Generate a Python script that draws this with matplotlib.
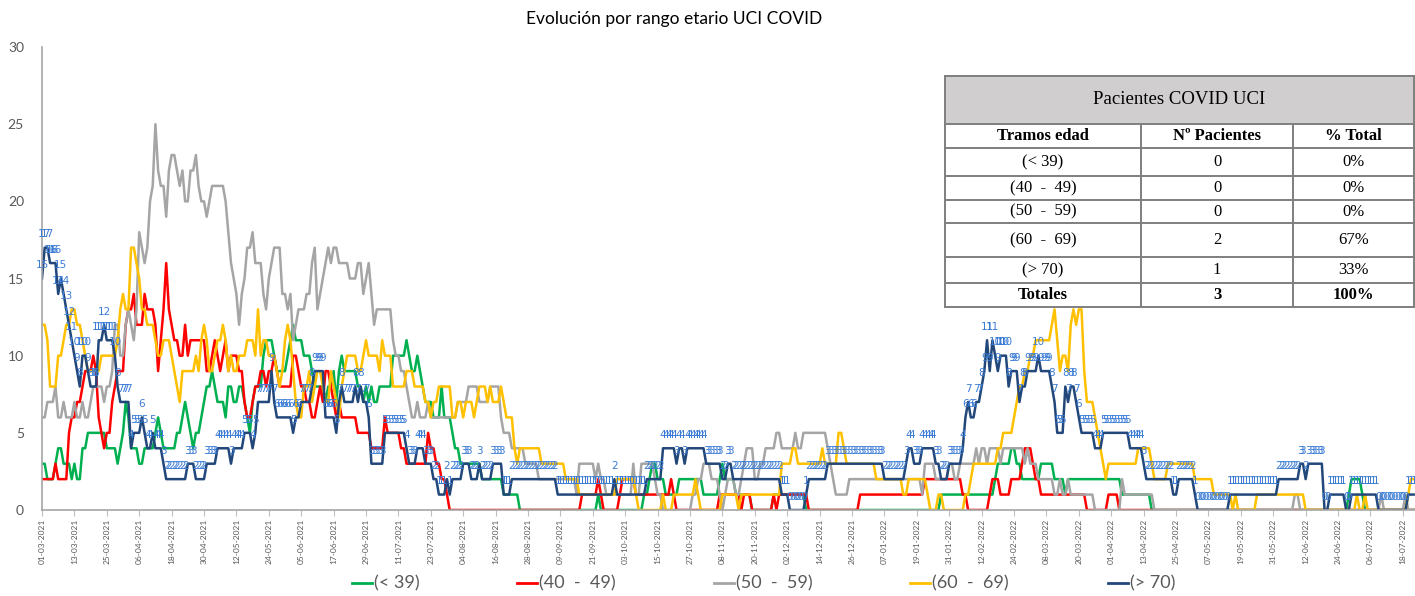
import numpy as np
import pandas as pd
import matplotlib
matplotlib.use("Agg")
import matplotlib.pyplot as plt
from matplotlib.lines import Line2D
from matplotlib.patches import Rectangle

plt.rcParams['font.family'] = ['Lato', 'DejaVu Sans']

#first day of the daily series
first_day = "2021-03-01"

#daily ICU patients per age range
menor_39 = [
    3, 3, 2, 2, 2, 3, 4, 4, 3, 3,
    3, 2, 3, 2, 2, 4, 4, 5, 5, 5,
    5, 5, 5, 5, 4, 4, 4, 4, 3, 4,
    5, 7, 6, 4, 4, 4, 3, 3, 4, 4,
    4, 4, 5, 6, 5, 4, 4, 4, 4, 4,
    5, 5, 6, 7, 6, 5, 4, 5, 5, 6,
    7, 8, 8, 9, 8, 7, 7, 7, 6, 8,
    8, 7, 7, 8, 8, 7, 6, 5, 7, 8,
    8, 8, 10, 11, 11, 11, 10, 9, 9, 9,
    9, 10, 11, 12, 11, 11, 11, 10, 10, 10,
    9, 8, 8, 8, 8, 7, 8, 8, 9, 7,
    9, 10, 9, 9, 9, 9, 9, 8, 8, 7,
    8, 7, 8, 7, 7, 8, 8, 8, 8, 8,
    10, 10, 10, 10, 10, 11, 10, 9, 9, 10,
    9, 8, 7, 7, 7, 6, 6, 6, 8, 6,
    6, 6, 5, 4, 4, 3, 3, 3, 3, 3,
    3, 3, 3, 2, 2, 2, 2, 2, 2, 2,
    2, 1, 1, 1, 1, 1, 1, 0, 0, 0,
    0, 0, 0, 0, 0, 0, 0, 0, 0, 0,
    0, 0, 0, 0, 0, 0, 0, 0, 0, 0,
    0, 0, 0, 0, 0, 0, 1, 0, 0, 0,
    0, 0, 0, 0, 0, 0, 0, 0, 0, 0,
    0, 0, 0, 1, 1, 2, 3, 3, 2, 2,
    2, 1, 1, 1, 1, 1, 2, 2, 2, 2,
    2, 2, 2, 2, 2, 1, 1, 1, 1, 1,
    1, 2, 3, 2, 2, 2, 2, 1, 1, 1,
    1, 1, 1, 0, 0, 0, 0, 0, 0, 0,
    0, 1, 1, 1, 1, 1, 1, 1, 1, 1,
    1, 1, 1, 0, 0, 0, 0, 0, 0, 0,
    0, 0, 0, 0, 0, 0, 0, 0, 0, 0,
    0, 0, 0, 0, 0, 0, 0, 0, 0, 0,
    0, 0, 0, 0, 0, 0, 0, 0, 0, 0,
    0, 0, 0, 0, 0, 0, 0, 0, 0, 0,
    0, 0, 0, 1, 1, 1, 1, 1, 1, 1,
    1, 1, 1, 1, 1, 1, 1, 1, 1, 1,
    1, 1, 1, 2, 3, 3, 3, 3, 3, 4,
    4, 3, 3, 2, 2, 2, 2, 2, 2, 2,
    3, 3, 3, 3, 3, 2, 2, 2, 2, 1,
    2, 2, 2, 2, 2, 2, 2, 2, 2, 2,
    2, 2, 2, 2, 2, 2, 2, 2, 2, 2,
    1, 1, 1, 1, 1, 1, 1, 1, 1, 1,
    1, 0, 0, 0, 0, 0, 0, 0, 0, 0,
    0, 0, 0, 0, 0, 0, 0, 0, 0, 0,
    0, 0, 0, 0, 0, 0, 0, 0, 0, 0,
    0, 0, 0, 0, 0, 0, 0, 0, 0, 0,
    0, 0, 0, 0, 0, 0, 0, 0, 0, 0,
    0, 0, 0, 0, 0, 0, 0, 0, 0, 0,
    0, 0, 0, 0, 0, 0, 0, 0, 0, 0,
    0, 0, 0, 0, 1, 2, 2, 2, 2, 1,
    0, 0, 0, 0, 0, 0, 0, 0, 0, 0,
    0, 0, 0, 0, 0, 0, 0, 0, 0,
]

de_40_49 = [
    2, 2, 2, 2, 2, 3, 2, 2, 2, 2,
    5, 6, 6, 7, 7, 8, 9, 9, 9, 10,
    9, 6, 5, 4, 5, 5, 7, 8, 9, 9,
    9, 12, 13, 13, 14, 12, 12, 12, 14, 13,
    13, 13, 12, 9, 11, 13, 16, 13, 12, 11,
    11, 10, 10, 12, 10, 11, 11, 11, 11, 11,
    11, 9, 9, 10, 11, 10, 9, 10, 11, 9,
    10, 10, 10, 9, 9, 7, 6, 6, 7, 8,
    8, 9, 9, 8, 9, 9, 10, 9, 8, 8,
    8, 8, 8, 10, 10, 9, 8, 8, 7, 7,
    6, 6, 7, 8, 7, 9, 9, 8, 7, 6,
    7, 6, 6, 6, 6, 6, 6, 5, 5, 5,
    5, 5, 4, 4, 4, 4, 4, 6, 5, 5,
    5, 5, 5, 4, 4, 3, 3, 3, 3, 3,
    3, 3, 3, 5, 4, 4, 3, 3, 2, 2,
    1, 0, 0, 0, 0, 0, 0, 0, 0, 0,
    0, 0, 0, 0, 0, 0, 0, 0, 0, 0,
    0, 0, 0, 0, 0, 0, 0, 0, 0, 0,
    0, 0, 0, 0, 0, 0, 0, 0, 0, 0,
    0, 0, 0, 0, 0, 0, 0, 0, 0, 0,
    1, 1, 1, 1, 1, 1, 2, 1, 0, 0,
    0, 0, 0, 0, 1, 2, 2, 2, 2, 2,
    1, 1, 1, 1, 1, 1, 1, 1, 1, 1,
    1, 1, 1, 2, 1, 0, 0, 0, 0, 0,
    0, 0, 0, 0, 0, 0, 0, 0, 0, 0,
    0, 1, 1, 1, 1, 1, 1, 1, 1, 0,
    1, 1, 1, 0, 0, 0, 0, 0, 0, 0,
    0, 1, 0, 1, 1, 1, 1, 1, 1, 1,
    1, 1, 1, 1, 0, 0, 0, 0, 0, 0,
    0, 0, 0, 0, 0, 0, 0, 0, 0, 0,
    0, 0, 0, 1, 1, 1, 1, 1, 1, 1,
    1, 1, 1, 1, 1, 1, 1, 1, 1, 1,
    1, 1, 1, 1, 1, 1, 1, 2, 2, 2,
    2, 2, 2, 2, 2, 2, 2, 2, 2, 2,
    2, 1, 1, 0, 0, 0, 0, 0, 0, 0,
    0, 1, 2, 2, 2, 1, 1, 1, 1, 2,
    2, 2, 2, 3, 4, 4, 4, 3, 2, 2,
    1, 1, 1, 1, 1, 1, 1, 1, 1, 1,
    1, 1, 1, 1, 1, 1, 1, 0, 0, 0,
    0, 0, 0, 0, 0, 1, 1, 1, 1, 0,
    0, 0, 0, 0, 0, 0, 0, 0, 0, 0,
    0, 0, 0, 0, 0, 0, 0, 0, 0, 0,
    0, 0, 0, 0, 0, 0, 0, 0, 0, 0,
    0, 0, 0, 0, 0, 0, 0, 0, 0, 0,
    0, 0, 0, 0, 0, 0, 0, 0, 0, 0,
    0, 0, 0, 0, 0, 0, 0, 0, 0, 0,
    0, 0, 0, 0, 0, 0, 0, 0, 0, 0,
    0, 0, 0, 0, 0, 0, 0, 0, 0, 0,
    0, 0, 0, 0, 0, 0, 0, 0, 0, 0,
    0, 0, 0, 0, 0, 0, 0, 0, 0, 0,
    0, 0, 0, 0, 0, 0, 0, 0, 0,
]

de_50_59 = [
    6, 6, 7, 7, 7, 8, 6, 6, 7, 6,
    6, 6, 7, 6, 6, 7, 6, 6, 7, 8,
    8, 8, 8, 7, 8, 8, 9, 12, 12, 10,
    10, 12, 13, 12, 11, 13, 18, 17, 16, 17,
    20, 21, 25, 22, 21, 21, 19, 22, 23, 23,
    22, 21, 22, 20, 20, 22, 22, 23, 21, 20,
    20, 19, 20, 21, 21, 21, 21, 21, 20, 18,
    16, 15, 14, 12, 14, 15, 17, 17, 18, 16,
    16, 16, 14, 13, 15, 16, 17, 17, 17, 14,
    14, 13, 14, 11, 12, 13, 13, 13, 14, 14,
    16, 17, 13, 14, 15, 16, 17, 16, 17, 17,
    16, 16, 16, 16, 15, 15, 15, 16, 16, 14,
    15, 16, 14, 12, 13, 13, 13, 13, 13, 13,
    11, 10, 10, 9, 9, 8, 7, 6, 6, 7,
    6, 6, 6, 7, 6, 6, 6, 6, 6, 6,
    6, 6, 6, 6, 7, 7, 7, 7, 8, 8,
    8, 8, 7, 7, 7, 7, 8, 8, 8, 8,
    6, 5, 5, 5, 4, 4, 4, 4, 4, 3,
    3, 3, 3, 3, 2, 2, 2, 2, 2, 2,
    2, 2, 2, 2, 2, 2, 2, 2, 1, 3,
    3, 3, 3, 3, 3, 2, 3, 2, 2, 1,
    1, 1, 1, 1, 1, 1, 1, 1, 1, 3,
    1, 1, 3, 3, 3, 3, 3, 2, 1, 1,
    0, 0, 0, 0, 0, 0, 0, 0, 0, 0,
    0, 1, 1, 2, 2, 3, 3, 3, 2, 2,
    2, 1, 0, 1, 2, 2, 2, 1, 1, 2,
    3, 4, 4, 4, 2, 2, 3, 3, 4, 4,
    4, 4, 5, 5, 4, 4, 4, 4, 4, 5,
    4, 4, 5, 5, 5, 5, 5, 5, 5, 5,
    5, 4, 3, 2, 1, 1, 1, 1, 1, 2,
    2, 2, 2, 2, 2, 2, 2, 2, 2, 2,
    2, 2, 2, 2, 2, 2, 2, 2, 2, 2,
    2, 2, 2, 2, 2, 2, 1, 3, 3, 3,
    3, 2, 2, 2, 2, 2, 3, 3, 2, 2,
    3, 3, 3, 3, 3, 3, 4, 3, 4, 4,
    3, 4, 4, 4, 4, 3, 4, 4, 4, 4,
    4, 4, 4, 4, 3, 4, 3, 3, 3, 2,
    2, 2, 2, 2, 2, 1, 1, 2, 1, 1,
    2, 1, 1, 1, 1, 1, 1, 1, 1, 1,
    0, 0, 0, 0, 0, 0, 0, 0, 0, 0,
    2, 1, 1, 1, 1, 1, 1, 1, 1, 1,
    1, 1, 0, 0, 0, 0, 0, 0, 0, 0,
    0, 0, 0, 0, 0, 0, 0, 0, 0, 0,
    0, 0, 0, 0, 0, 0, 0, 0, 0, 0,
    0, 0, 0, 0, 0, 0, 0, 0, 0, 0,
    0, 0, 0, 0, 0, 0, 0, 0, 0, 0,
    0, 0, 0, 0, 1, 1, 0, 0, 0, 0,
    0, 0, 0, 0, 0, 0, 0, 0, 0, 0,
    0, 0, 0, 0, 0, 0, 0, 0, 0, 0,
    0, 0, 0, 0, 0, 0, 1, 0, 0, 0,
    0, 0, 0, 0, 0, 1, 0, 0, 0,
]

de_60_69 = [
    12, 12, 11, 8, 8, 8, 10, 10, 11, 12,
    12, 13, 13, 12, 12, 11, 10, 9, 9, 9,
    9, 9, 10, 10, 10, 10, 10, 10, 11, 13,
    14, 13, 13, 17, 17, 16, 15, 13, 13, 12,
    12, 12, 11, 10, 10, 11, 11, 11, 10, 9,
    8, 7, 9, 9, 9, 9, 9, 10, 9, 11,
    12, 11, 9, 9, 10, 11, 11, 12, 11, 9,
    10, 9, 9, 10, 10, 10, 11, 11, 11, 10,
    13, 10, 11, 11, 10, 10, 10, 9, 8, 9,
    11, 12, 11, 9, 7, 6, 6, 8, 8, 9,
    7, 8, 9, 9, 8, 7, 7, 9, 8, 7,
    6, 8, 9, 10, 10, 10, 10, 9, 9, 10,
    11, 10, 10, 10, 10, 9, 11, 10, 10, 10,
    8, 8, 8, 8, 8, 9, 9, 9, 8, 8,
    8, 8, 7, 7, 6, 7, 7, 8, 8, 8,
    8, 8, 6, 6, 7, 7, 6, 7, 7, 7,
    6, 7, 8, 8, 8, 7, 8, 7, 7, 7,
    8, 7, 6, 6, 6, 4, 3, 4, 4, 4,
    4, 4, 4, 4, 4, 3, 3, 3, 3, 3,
    3, 3, 3, 3, 2, 2, 2, 2, 2, 1,
    1, 1, 1, 1, 1, 1, 1, 1, 1, 1,
    1, 1, 1, 2, 2, 2, 2, 2, 2, 2,
    1, 0, 0, 0, 0, 0, 0, 0, 0, 0,
    1, 0, 0, 0, 1, 1, 1, 1, 1, 1,
    1, 1, 2, 1, 0, 0, 0, 0, 0, 0,
    0, 0, 1, 1, 1, 1, 1, 1, 0, 1,
    1, 1, 1, 1, 1, 1, 1, 1, 1, 1,
    1, 1, 1, 1, 3, 3, 3, 3, 4, 4,
    3, 3, 3, 3, 3, 3, 3, 3, 3, 4,
    3, 3, 3, 3, 3, 5, 5, 4, 3, 3,
    3, 3, 3, 3, 3, 3, 3, 3, 3, 2,
    2, 2, 2, 2, 2, 2, 2, 2, 2, 1,
    1, 2, 2, 2, 2, 2, 2, 2, 1, 0,
    0, 0, 1, 1, 0, 0, 0, 0, 0, 0,
    0, 0, 1, 1, 2, 3, 3, 3, 3, 3,
    3, 3, 3, 3, 4, 4, 5, 5, 5, 5,
    6, 7, 8, 8, 9, 9, 10, 10, 11, 11,
    11, 11, 11, 11, 12, 13, 11, 9, 10, 10,
    9, 12, 13, 12, 13, 13, 9, 7, 7, 7,
    6, 5, 4, 3, 2, 3, 3, 3, 3, 3,
    3, 3, 3, 3, 3, 3, 4, 4, 4, 4,
    4, 3, 2, 2, 2, 2, 2, 3, 3, 3,
    3, 3, 3, 3, 3, 3, 3, 2, 2, 2,
    2, 2, 2, 2, 1, 1, 1, 1, 1, 1,
    1, 0, 1, 0, 0, 0, 0, 0, 0, 0,
    1, 1, 1, 1, 1, 1, 1, 1, 1, 1,
    1, 1, 1, 1, 1, 1, 1, 1, 0, 0,
    0, 0, 0, 0, 0, 0, 0, 0, 0, 0,
    0, 0, 0, 0, 0, 0, 0, 1, 0, 0,
    1, 0, 0, 0, 0, 0, 0, 0, 0, 0,
    0, 0, 0, 0, 0, 0, 1, 2, 2,
]

mayor_70 = [
    15, 17, 17, 16, 16, 16, 14, 15, 14, 13,
    12, 11, 10, 9, 8, 10, 10, 9, 8, 8,
    8, 11, 11, 12, 11, 11, 11, 10, 8, 7,
    7, 7, 7, 4, 5, 5, 5, 6, 5, 4,
    4, 5, 4, 4, 4, 3, 2, 2, 2, 2,
    2, 2, 2, 2, 3, 3, 3, 2, 2, 2,
    2, 3, 3, 3, 3, 4, 4, 4, 4, 4,
    3, 4, 4, 4, 4, 5, 5, 5, 4, 5,
    7, 7, 7, 7, 7, 9, 7, 6, 6, 6,
    6, 6, 6, 5, 6, 6, 7, 7, 7, 7,
    8, 9, 9, 9, 9, 6, 6, 6, 6, 5,
    7, 8, 7, 7, 7, 7, 8, 7, 8, 7,
    7, 6, 3, 3, 3, 3, 3, 5, 5, 5,
    5, 5, 5, 5, 5, 4, 3, 3, 3, 4,
    4, 4, 3, 3, 3, 2, 2, 1, 1, 1,
    2, 1, 2, 2, 2, 2, 3, 3, 3, 2,
    2, 2, 3, 2, 2, 2, 2, 3, 3, 3,
    3, 1, 1, 1, 2, 2, 2, 2, 2, 2,
    2, 2, 2, 2, 2, 2, 2, 2, 2, 2,
    2, 1, 1, 1, 1, 1, 1, 1, 1, 1,
    1, 1, 1, 1, 1, 1, 1, 1, 1, 1,
    1, 1, 2, 1, 1, 1, 1, 1, 1, 1,
    1, 1, 1, 1, 2, 2, 2, 2, 2, 2,
    4, 4, 4, 4, 4, 3, 4, 4, 3, 4,
    4, 4, 4, 4, 4, 4, 3, 3, 3, 3,
    3, 3, 2, 2, 3, 3, 2, 2, 2, 2,
    2, 2, 2, 2, 2, 2, 2, 2, 2, 2,
    2, 2, 2, 2, 1, 1, 1, 0, 0, 0,
    0, 0, 0, 1, 2, 2, 2, 2, 2, 2,
    2, 3, 3, 3, 3, 3, 3, 3, 3, 3,
    3, 3, 3, 3, 3, 3, 3, 3, 3, 3,
    3, 3, 2, 2, 2, 2, 2, 2, 2, 2,
    3, 4, 4, 3, 3, 3, 4, 4, 4, 4,
    4, 3, 3, 2, 2, 2, 3, 3, 3, 3,
    3, 4, 6, 7, 6, 6, 7, 7, 8, 9,
    11, 9, 11, 10, 9, 10, 10, 10, 8, 9,
    9, 9, 7, 8, 8, 9, 9, 9, 9, 10,
    9, 9, 9, 9, 8, 7, 5, 5, 5, 8,
    7, 8, 8, 7, 6, 5, 5, 5, 5, 5,
    4, 4, 4, 5, 5, 5, 5, 5, 5, 5,
    5, 5, 5, 4, 4, 4, 4, 4, 3, 2,
    2, 2, 2, 2, 2, 2, 2, 2, 2, 1,
    1, 2, 2, 2, 2, 2, 2, 1, 0, 0,
    0, 0, 0, 0, 0, 0, 0, 0, 0, 0,
    1, 1, 1, 1, 1, 1, 1, 1, 1, 1,
    1, 1, 1, 1, 1, 1, 1, 1, 2, 2,
    2, 2, 2, 2, 2, 2, 3, 3, 2, 3,
    3, 3, 3, 3, 3, 0, 0, 1, 1, 1,
    1, 1, 1, 0, 0, 1, 1, 1, 1, 1,
    1, 1, 1, 1, 1, 0, 0, 0, 0, 0,
    0, 0, 0, 0, 0, 0, 1, 1, 1,
]

series_names = ["(< 39)", "(40  -  49)", "(50  -  59)", "(60  -  69)", "(> 70)"]

#summary table
tabla_titulo = "Pacientes COVID UCI"
tabla_cabecera = ["Tramos edad", "Nº Pacientes", "% Total"]
tramos = ["(< 39)", "(40  -  49)", "(50  -  59)", "(60  -  69)", "(> 70)"]
n_pacientes = [0, 0, 0, 2, 1]
pct_total = ["0%", "0%", "0%", "67%", "33%"]
totales = ["Totales", "3", "100%"]

#styling
colors = ["#00b050", "#ff0000", "#a5a5a5", "#ffc000", "#22477a"]
label_blue = "#3a7bd5"
axis_grey = "#595959"
W, H = 1415, 596

series = [menor_39, de_40_49, de_50_59, de_60_69, mayor_70]
for s in series:
    assert len(s) == len(mayor_70), len(s)

dates = pd.date_range(first_day, periods=len(mayor_70), freq="D")
x = np.arange(len(dates))

fig = plt.figure(figsize=(W / 100, H / 100), dpi=100)
ax = fig.add_axes([42 / W, 86 / H, 1373 / W, 463 / H])

for vals, col in zip(series, colors):
    ax.plot(x, vals, color=col, lw=1.8, solid_joinstyle="round")

#data labels on the > 70 series, like the excel sheet
for xi, v in zip(x, mayor_70):
    ax.annotate(str(v), (xi, v), xytext=(0, 9.5), textcoords="offset points",
                ha="center", va="center", fontsize=7.5, color=label_blue,
                family=["Liberation Sans Narrow", "DejaVu Sans"], zorder=10)

ax.set_xlim(0, len(x) - 0.5)
ax.set_ylim(0, 30)
ax.set_yticks(range(0, 31, 5))
ax.tick_params(axis="y", length=0, pad=13, labelsize=10, labelcolor=axis_grey)
ax.set_xticks(x[::12])
ax.set_xticklabels(dates[::12].strftime("%d-%m-%Y"), rotation=90,
                   fontsize=6, color=axis_grey)
ax.tick_params(axis="x", length=4, color="#bfbfbf", pad=2)
for side in ["top", "right"]:
    ax.spines[side].set_visible(False)
for side in ["left", "bottom"]:
    ax.spines[side].set_color("#a6a6a6")
    ax.spines[side].set_linewidth(1.2)

fig.text(674 / W, 1 - 19 / H, "Evolución por rango etario UCI COVID",
         ha="center", va="center", fontsize=12.5, color="black")

#legend below the axis, hand placed like in the sheet
legend_x = [352, 517, 714, 910, 1108]
legend_y = 1 - 583 / H
for lx, col, name in zip(legend_x, colors, series_names):
    fig.add_artist(Line2D([lx / W, (lx + 20) / W], [legend_y, legend_y],
                          color=col, lw=2, transform=fig.transFigure))
    fig.text((lx + 22) / W, legend_y, name, ha="left", va="center",
             fontsize=13, color=axis_grey)

#table drawn on top of the chart
tab = fig.add_axes([945 / W, (H - 307) / H, 469 / W, 231 / H])
tab.set_xlim(945, 1414)
tab.set_ylim(307, 76)
tab.axis("off")
row_edges = [76, 124, 148, 176, 200, 223, 257, 283, 307]
col_edges = [945, 1141, 1293, 1414]
border = "#7f7f7f"
serif = ["Liberation Serif", "DejaVu Serif"]

tab.add_patch(Rectangle((945, 76), 469, 231, facecolor="white",
                        edgecolor="none", zorder=0))
tab.add_patch(Rectangle((945, 76), 469, 48, facecolor="#d0cece",
                        edgecolor="none", zorder=1))
for ry in row_edges:
    tab.plot([945, 1414], [ry, ry], color=border, lw=1.4, clip_on=False, zorder=2)
for cx in col_edges:
    top = 76 if cx in (945, 1414) else 124
    tab.plot([cx, cx], [top, 307], color=border, lw=1.4, clip_on=False, zorder=2)

col_mid = [(a + b) / 2 for a, b in zip(col_edges[:-1], col_edges[1:])]
row_mid = [(a + b) / 2 for a, b in zip(row_edges[:-1], row_edges[1:])]

tab.text(1179.5, row_mid[0], tabla_titulo, ha="center", va="center",
         fontsize=13.5, family=serif)
for cx, txt in zip(col_mid, tabla_cabecera):
    tab.text(cx, row_mid[1], txt, ha="center", va="center", fontsize=12,
             fontweight="bold", family=serif)
for i, (t, n, p) in enumerate(zip(tramos, n_pacientes, pct_total)):
    ry = row_mid[2 + i]
    for cx, txt in zip(col_mid, [t, str(n), p]):
        tab.text(cx, ry, txt, ha="center", va="center", fontsize=12, family=serif)
for cx, txt in zip(col_mid, totales):
    tab.text(cx, row_mid[-1], txt, ha="center", va="center", fontsize=12,
             fontweight="bold", family=serif)

fig.savefig("out.png", dpi=100)
